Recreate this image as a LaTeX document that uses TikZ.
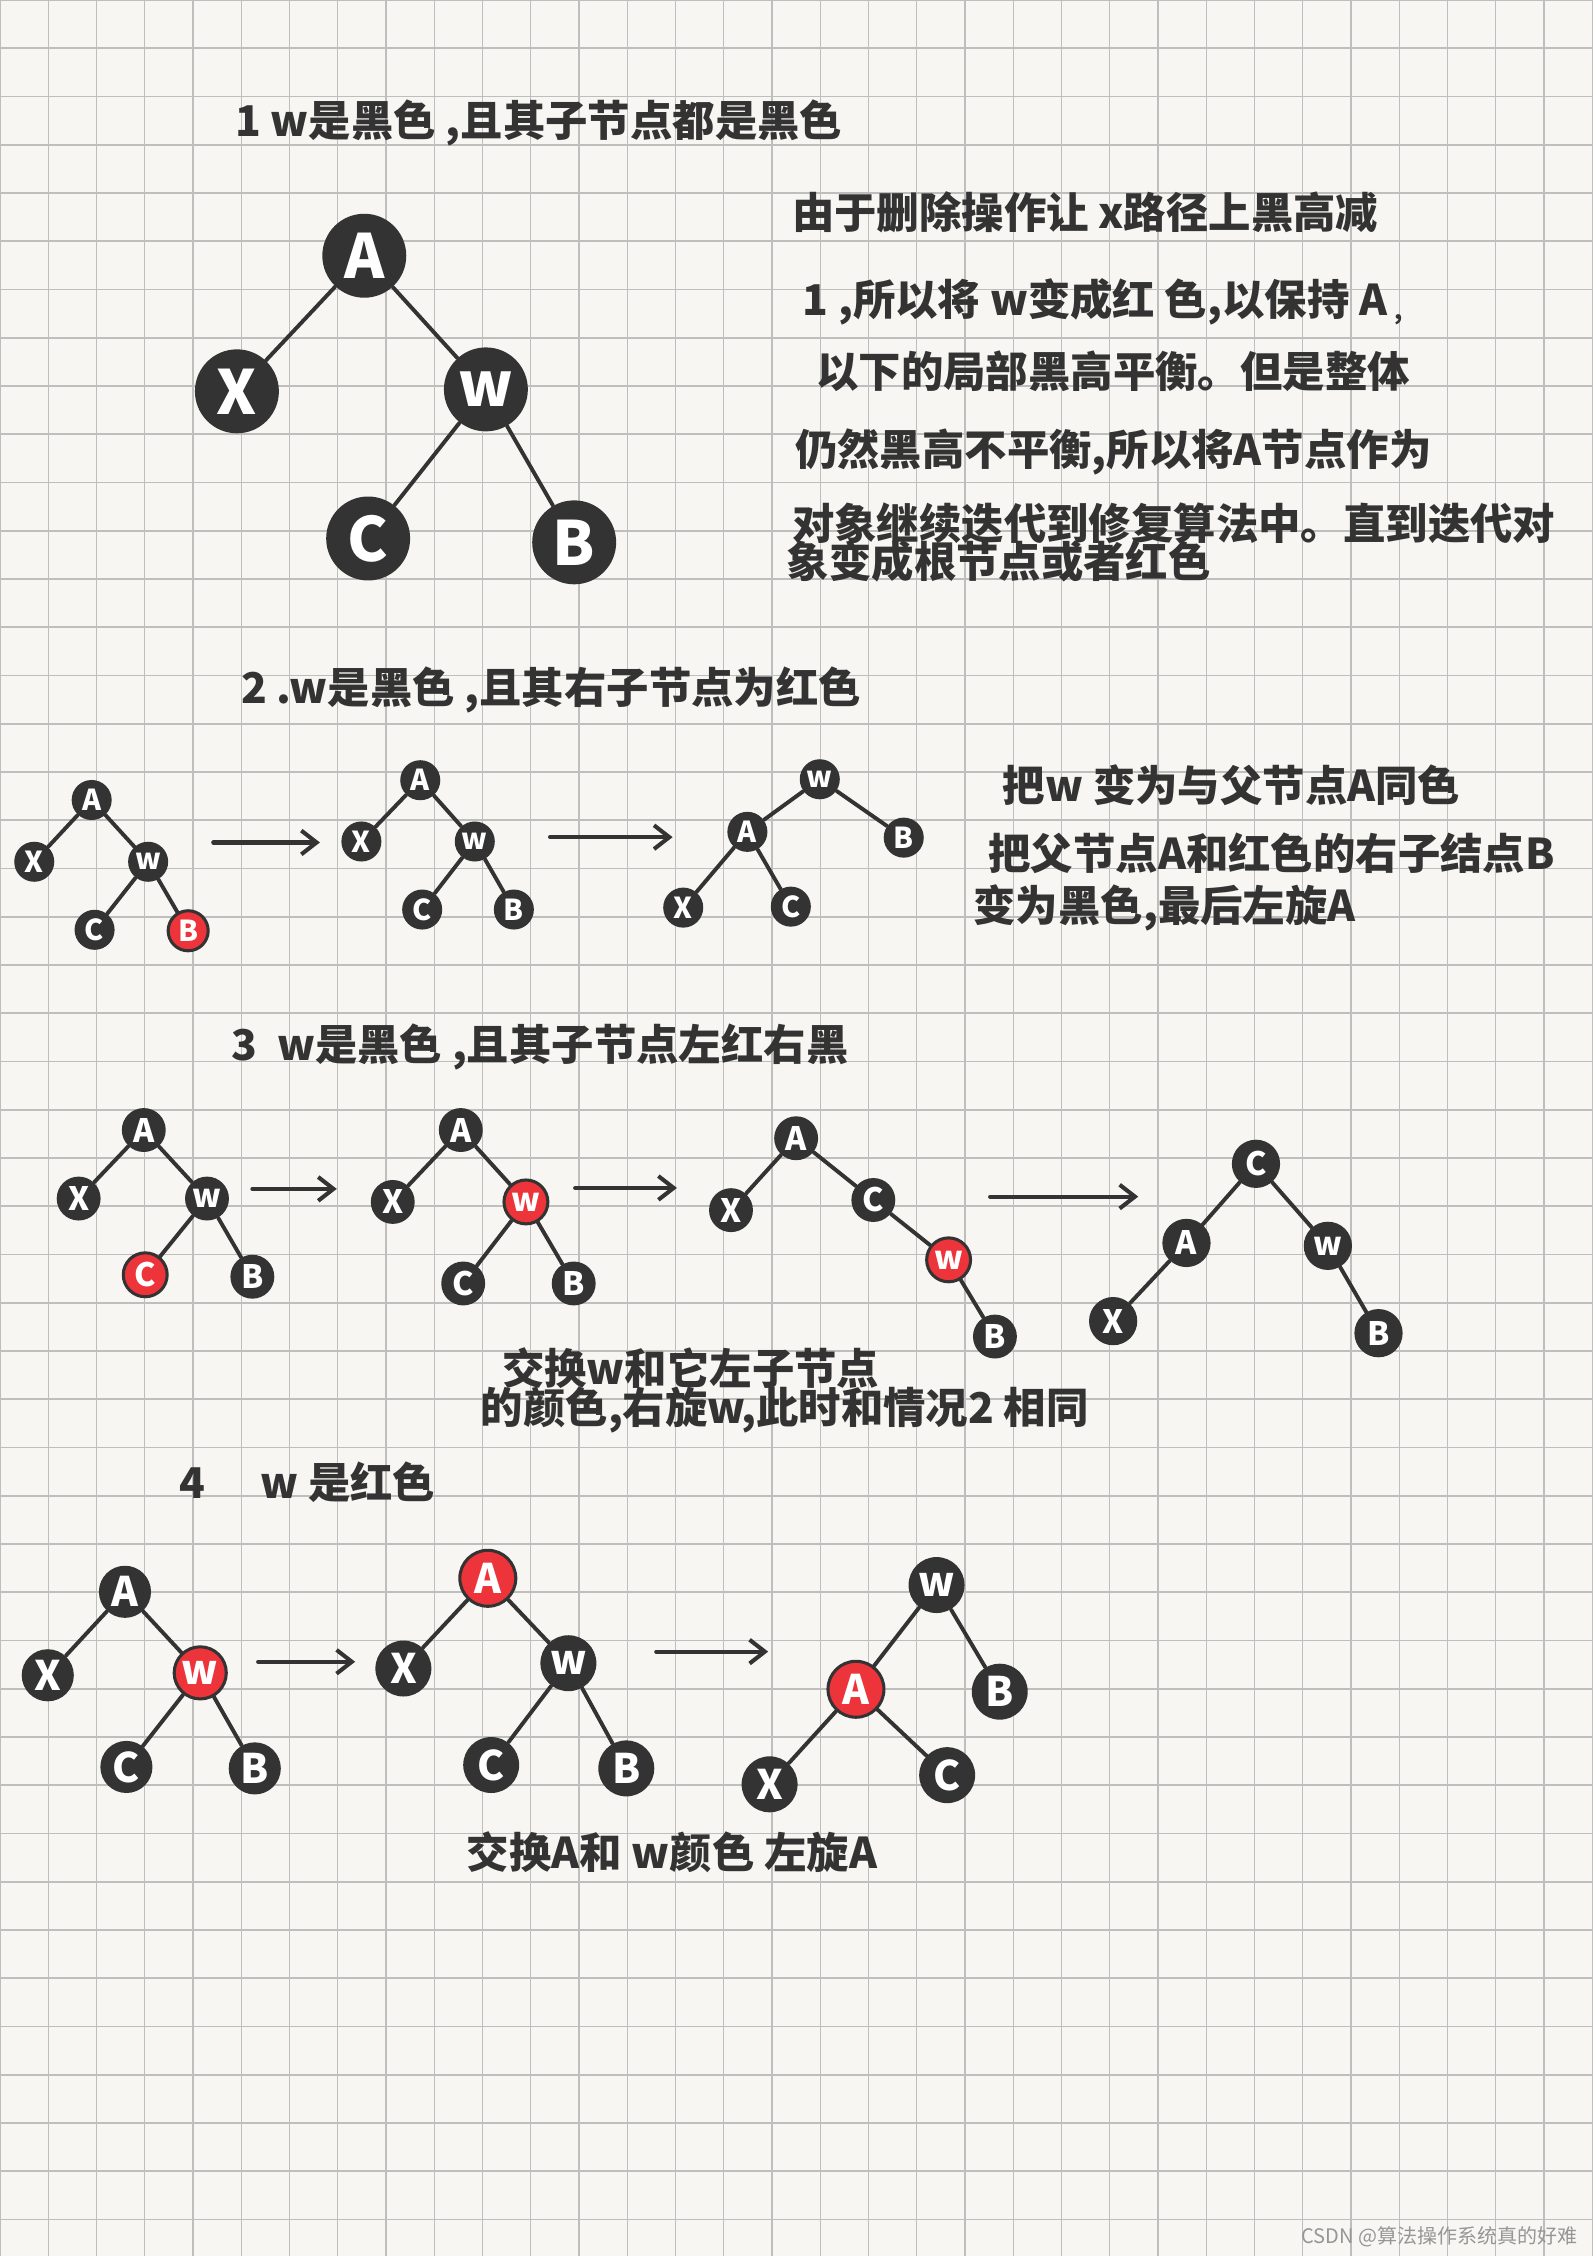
\documentclass[tikz,border=0pt]{standalone}
\usepackage{fontspec}
\newfontfamily\cjk{Noto Sans CJK SC}
\usetikzlibrary{arrows.meta}
\definecolor{ink}{RGB}{51,51,51}
\definecolor{rbred}{RGB}{236,52,58}
\definecolor{paper}{RGB}{247,246,242}
\definecolor{gridc}{RGB}{190,190,188}
\definecolor{mark}{RGB}{150,150,150}

\begin{document}
\begin{tikzpicture}[x=1cm,y=-1cm,>={Straight Barb[length=9pt,width=14pt]},
  hline/.style={gridc,line width=1.05pt},
  vline/.style={gridc,line width=0.75pt},
  bk/.style={circle,fill=ink,text=white,inner sep=0pt},
  rd/.style={circle,fill=rbred,draw=ink,line width=1.8pt,text=white,inner sep=0pt},
  big/.style={minimum size=1.74cm,font=\cjk\bfseries\fontsize{36}{36}\selectfont},
  sm/.style={minimum size=0.83cm,font=\cjk\bfseries\fontsize{17}{17}\selectfont},
  md/.style={minimum size=0.91cm,font=\cjk\bfseries\fontsize{19}{19}\selectfont},
  lg/.style={minimum size=1.16cm,font=\cjk\bfseries\fontsize{24}{24}\selectfont},
  link/.style={ink,line width=2.3pt,line cap=round},
  arr/.style={->,ink,line width=2.4pt,line cap=round},
  txt/.style={anchor=west,inner sep=0pt,text=ink,font=\cjk\bfseries\fontsize{25}{30}\selectfont}]
\useasboundingbox (0,0) rectangle (33.016,46.756);
\fill[paper] (0,0) rectangle (33.016,46.756);
\foreach \i in {0,...,46} \draw[hline] (0,\i) -- (33.016,\i);
\foreach \i in {0,...,33} \draw[vline] (\i,0) -- (\i,46.756);

% case 1
\node[txt] (t1) at (4.87,2.54) {1 w是黑色 ,且其子节点都是黑色};
\node[bk,big] (a1) at (7.55,5.30) {A};
\node[bk,big] (x1) at (4.91,8.11) {X};
\node[bk,big] (w1) at (10.07,8.07) {w};
\node[bk,big] (c1) at (7.63,11.16) {C};
\node[bk,big] (b1) at (11.90,11.24) {B};
\draw[link] (a1)--(x1) (a1)--(w1) (w1)--(c1) (w1)--(b1);
\node[txt] (n1) at (16.41,4.41) {由于删除操作让 x路径上黑高减};
\node[txt] (n2) at (16.63,6.25) {1 ,所以将 w变成红 色,以保持 A};
\node[txt,font=\cjk\bfseries\fontsize{14}{14}\selectfont] (n2m) at (28.90,6.62) {,};
\node[txt] (n3) at (16.91,7.70) {以下的局部黑高平衡。但是整体};
\node[txt] (n4) at (16.47,9.36) {仍然黑高不平衡,所以将A节点作为};
\node[txt] (n5) at (16.41,10.85) {对象继续迭代到修复算法中。直到迭代对};
\node[txt] (n6) at (16.30,11.64) {象变成根节点或者红色};

% case 2
\node[txt] (t2) at (4.99,14.30) {2 .w是黑色 ,且其右子节点为红色};
\node[bk,sm] (a2a) at (1.90,16.58) {A};
\node[bk,sm] (x2a) at (0.71,17.86) {X};
\node[bk,sm] (w2a) at (3.07,17.86) {w};
\node[bk,sm] (c2a) at (1.96,19.27) {C};
\node[rd,sm] (b2a) at (3.90,19.29) {B};
\draw[link] (a2a)--(x2a) (a2a)--(w2a) (w2a)--(c2a) (w2a)--(b2a);
\coordinate (p2a) at (4.42,17.46); \coordinate (q2a) at (6.63,17.46);
\draw[arr] (p2a) -- (q2a);
\node[bk,sm] (a2b) at (8.71,16.17) {A};
\node[bk,sm] (x2b) at (7.49,17.44) {X};
\node[bk,sm] (w2b) at (9.84,17.44) {w};
\node[bk,sm] (c2b) at (8.75,18.85) {C};
\node[bk,sm] (b2b) at (10.65,18.85) {B};
\draw[link] (a2b)--(x2b) (a2b)--(w2b) (w2b)--(c2b) (w2b)--(b2b);
\coordinate (p2b) at (11.40,17.35); \coordinate (q2b) at (13.94,17.35);
\draw[arr] (p2b) -- (q2b);
\node[bk,sm] (w2c) at (16.99,16.15) {w};
\node[bk,sm] (a2c) at (15.49,17.24) {A};
\node[bk,sm] (x2c) at (14.16,18.81) {X};
\node[bk,sm] (c2c) at (16.39,18.79) {C};
\node[bk,sm] (b2c) at (18.73,17.36) {B};
\draw[link] (w2c)--(a2c) (w2c)--(b2c) (a2c)--(x2c) (a2c)--(c2c);
\node[txt] (n7) at (20.78,16.27) {把w 变为与父节点A同色};
\node[txt] (n8) at (20.48,17.69) {把父节点A和红色的右子结点B};
\node[txt] (n9) at (20.17,18.82) {变为黑色,最后左旋A};

% case 3
\node[txt] (t3) at (4.80,21.69) {3\ \ w是黑色 ,且其子节点左红右黑};
\node[bk,md] (a3a) at (2.98,23.42) {A};
\node[bk,md] (x3a) at (1.63,24.84) {X};
\node[bk,md] (w3a) at (4.29,24.84) {w};
\node[rd,md] (c3a) at (3.01,26.42) {C};
\node[bk,md] (b3a) at (5.23,26.46) {B};
\draw[link] (a3a)--(x3a) (a3a)--(w3a) (w3a)--(c3a) (w3a)--(b3a);
\coordinate (p3a) at (5.23,24.64); \coordinate (q3a) at (6.98,24.64);
\draw[arr] (p3a) -- (q3a);
\node[bk,md] (a3b) at (9.55,23.42) {A};
\node[bk,md] (x3b) at (8.14,24.91) {X};
\node[rd,md] (w3b) at (10.90,24.91) {w};
\node[bk,md] (c3b) at (9.60,26.60) {C};
\node[bk,md] (b3b) at (11.89,26.60) {B};
\draw[link] (a3b)--(x3b) (a3b)--(w3b) (w3b)--(c3b) (w3b)--(b3b);
\coordinate (p3b) at (11.92,24.62); \coordinate (q3b) at (14.03,24.62);
\draw[arr] (p3b) -- (q3b);
\node[bk,md] (a3c) at (16.50,23.59) {A};
\node[bk,md] (x3c) at (15.15,25.08) {X};
\node[bk,md] (c3c) at (18.10,24.87) {C};
\node[rd,md] (w3c) at (19.66,26.11) {w};
\node[bk,md] (b3c) at (20.62,27.70) {B};
\draw[link] (a3c)--(x3c) (a3c)--(c3c) (c3c)--(w3c) (w3c)--(b3c);
\coordinate (p3c) at (20.52,24.80); \coordinate (q3c) at (23.59,24.80);
\draw[arr] (p3c) -- (q3c);
\node[bk,md,minimum size=1cm] (c3d) at (26.03,24.12) {C};
\node[bk,md,minimum size=1cm] (a3d) at (24.59,25.76) {A};
\node[bk,md,minimum size=1cm] (w3d) at (27.52,25.82) {w};
\node[bk,md,minimum size=1cm] (x3d) at (23.07,27.38) {X};
\node[bk,md,minimum size=1cm] (b3d) at (28.57,27.63) {B};
\draw[link] (c3d)--(a3d) (c3d)--(w3d) (a3d)--(x3d) (w3d)--(b3d);
\node[txt] (n10) at (10.40,28.36) {交换w和它左子节点};
\node[txt] (n11) at (9.96,29.22) {的颜色,右旋w,此时和情况2 相同};

% case 4
\node[txt] (t4) at (3.71,30.71) {4\hspace{1.3em}w 是红色};
\node[bk,lg,minimum size=1.08cm] (a4a) at (2.59,32.99) {A};
\node[bk,lg,minimum size=1.08cm] (x4a) at (0.99,34.72) {X};
\node[rd,lg,minimum size=1.08cm] (w4a) at (4.15,34.67) {w};
\node[bk,lg,minimum size=1.08cm] (c4a) at (2.62,36.62) {C};
\node[bk,lg,minimum size=1.08cm] (b4a) at (5.28,36.65) {B};
\draw[link] (a4a)--(x4a) (a4a)--(w4a) (w4a)--(c4a) (w4a)--(b4a);
\coordinate (p4a) at (5.35,34.44); \coordinate (q4a) at (7.36,34.44);
\draw[arr] (p4a) -- (q4a);
\node[rd,lg] (a4b) at (10.11,32.71) {A};
\node[bk,lg] (x4b) at (8.36,34.58) {X};
\node[bk,lg] (w4b) at (11.78,34.47) {w};
\node[bk,lg] (c4b) at (10.18,36.58) {C};
\node[bk,lg] (b4b) at (12.98,36.65) {B};
\draw[link] (a4b)--(x4b) (a4b)--(w4b) (w4b)--(c4b) (w4b)--(b4b);
\coordinate (p4b) at (13.60,34.23); \coordinate (q4b) at (15.92,34.23);
\draw[arr] (p4b) -- (q4b);
\node[bk,lg] (w4c) at (19.41,32.85) {w};
\node[rd,lg] (a4c) at (17.74,35.01) {A};
\node[bk,lg] (b4c) at (20.72,35.06) {B};
\node[bk,lg] (x4c) at (15.95,36.98) {X};
\node[bk,lg] (c4c) at (19.63,36.79) {C};
\draw[link] (w4c)--(a4c) (w4c)--(b4c) (a4c)--(x4c) (a4c)--(c4c);
\node[txt] (n12) at (9.67,38.38) {交换A和 w颜色 左旋A};

\node[anchor=east,inner sep=0pt,text=mark,font=\cjk\fontsize{11.8}{12}\selectfont] (wm) at (32.70,46.36) {CSDN @算法操作系统真的好难};
\end{tikzpicture}
\end{document}
